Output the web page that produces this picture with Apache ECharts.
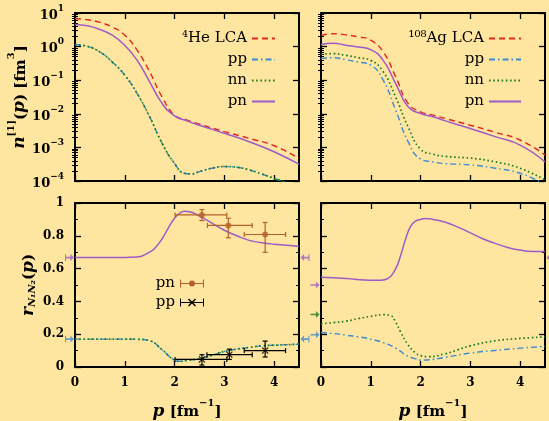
<!DOCTYPE html>
<html>
<head>
<meta charset="utf-8">
<script src="https://cdn.jsdelivr.net/npm/echarts@6/dist/echarts.min.js"></script>
<style>
  html, body { margin: 0; padding: 0; background: #FFE6A0; }
  #chart { width: 549px; height: 421px; }
</style>
</head>
<body>
<div id="chart"></div>
<script>
// ---- one-body momentum distributions n^[1](p) [fm^3] ----
const pGrid = [0, 0.25, 0.5, 0.75, 1, 1.25, 1.5, 1.75, 2, 2.25, 2.5, 3, 3.5, 4, 4.5];

const heLCA = [6.76, 6.31, 5.25, 3.80, 2.19, 0.776, 0.178, 0.0316, 0.00912, 0.00646, 0.0049, 0.00295, 0.00186, 0.00112, 0.000468];
const hePN  = [4.57, 4.17, 3.24, 2.19, 1.10, 0.389, 0.0891, 0.0204, 0.00871, 0.00617, 0.00457, 0.00263, 0.00148, 0.000741, 0.000316];
const pHeLike = [0, 0.25, 0.5, 0.75, 1, 1.25, 1.5, 1.75, 2, 2.2, 2.35, 2.5, 2.75, 3, 3.25, 3.5, 3.75, 4, 4.25, 4.5];
const hePP  = [1.15, 1.02, 0.692, 0.347, 0.141, 0.0398, 0.00813, 0.00132, 0.000331, 0.00017, 0.000162, 0.000191, 0.00024, 0.000269, 0.000257, 0.000214, 0.000162, 0.00012, 0.0000891, 0.0000631];
const heNN  = [1.15, 1.02, 0.692, 0.347, 0.141, 0.0398, 0.00813, 0.00132, 0.000331, 0.00017, 0.000162, 0.000191, 0.00024, 0.000269, 0.000257, 0.000214, 0.000162, 0.00012, 0.0000891, 0.0000631];

const agLCA = [2.19, 2.40, 2.24, 1.95, 1.55, 0.692, 0.126, 0.0204, 0.0115, 0.00912, 0.00724, 0.00457, 0.00282, 0.00166, 0.000589];
const agPN  = [1.15, 1.26, 1.10, 0.977, 0.813, 0.389, 0.0794, 0.0162, 0.0102, 0.00813, 0.00617, 0.00363, 0.00209, 0.00117, 0.000372];
const agNN  = [0.589, 0.617, 0.550, 0.468, 0.389, 0.178, 0.0316, 0.00407, 0.00089, 0.00063, 0.00054, 0.000479, 0.000372, 0.00024, 0.000107];
const agPP  = [0.437, 0.468, 0.407, 0.347, 0.282, 0.100, 0.0129, 0.00148, 0.00045, 0.00037, 0.00033, 0.000302, 0.00024, 0.00017, 0.0000794];

// ---- pair ratios r_{N1N2}(p) ----
const pHeRatioPN = [0, 0.5, 1.0, 1.25, 1.5, 1.6, 1.75, 1.9, 2.0, 2.1, 2.2, 2.3, 2.5, 2.75, 3.0, 3.25, 3.5, 3.75, 4.0, 4.25, 4.5];
const rHePN      = [0.667, 0.667, 0.667, 0.670, 0.70, 0.723, 0.782, 0.861, 0.907, 0.937, 0.95, 0.947, 0.92, 0.877, 0.834, 0.80, 0.772, 0.758, 0.749, 0.743, 0.735];
const pHeRatioPP = [0, 0.5, 1.0, 1.25, 1.5, 1.75, 2.0, 2.1, 2.25, 2.5, 2.75, 3.0, 3.25, 3.5, 3.75, 4.0, 4.5];
const rHePP      = [0.17, 0.17, 0.17, 0.169, 0.16, 0.105, 0.042, 0.035, 0.04, 0.051, 0.071, 0.095, 0.109, 0.119, 0.129, 0.133, 0.139];
const rHeNN      = [0.17, 0.17, 0.17, 0.169, 0.16, 0.105, 0.042, 0.035, 0.04, 0.051, 0.071, 0.095, 0.109, 0.119, 0.129, 0.133, 0.139];

const pAgRatioPN = [0, 0.5, 1.0, 1.2, 1.35, 1.5, 1.6, 1.7, 1.8, 1.9, 2.0, 2.1, 2.25, 2.5, 2.75, 3.0, 3.25, 3.5, 3.75, 4.0, 4.25, 4.5];
const rAgPN      = [0.547, 0.539, 0.529, 0.529, 0.54, 0.60, 0.68, 0.78, 0.857, 0.89, 0.90, 0.905, 0.90, 0.883, 0.853, 0.818, 0.782, 0.754, 0.729, 0.713, 0.705, 0.705];
const pAgRatioNN = [0, 0.25, 0.5, 0.75, 1.0, 1.25, 1.4, 1.5, 1.6, 1.75, 1.9, 2.0, 2.15, 2.5, 2.75, 3.0, 3.5, 4.0, 4.5];
const rAgNN      = [0.263, 0.271, 0.279, 0.295, 0.309, 0.319, 0.313, 0.273, 0.214, 0.135, 0.085, 0.069, 0.063, 0.081, 0.105, 0.129, 0.16, 0.174, 0.184];
const pAgRatioPP = [0, 0.25, 0.5, 0.75, 1.0, 1.25, 1.5, 1.75, 1.9, 2.0, 2.25, 2.5, 3.0, 3.5, 4.0, 4.5];
const rAgPP      = [0.21, 0.204, 0.194, 0.184, 0.17, 0.149, 0.115, 0.065, 0.05, 0.042, 0.046, 0.059, 0.085, 0.101, 0.115, 0.125];

// ---- measured ratios: [p, r, pLow, pHigh, rLow, rHigh] ----
const expPN = [
  [2.55, 0.927, 2.01, 3.05, 0.893, 0.960],
  [3.08, 0.863, 2.66, 3.56, 0.788, 0.907],
  [3.82, 0.808, 3.40, 4.23, 0.699, 0.881]
];
const expPP = [
  [2.55, 0.046, 2.01, 3.05, 0.012, 0.075],
  [3.10, 0.075, 2.65, 3.56, 0.046, 0.109],
  [3.82, 0.100, 3.40, 4.23, 0.061, 0.158]
];

// ---- reference values marked by arrows beside the ratio panels ----
const heMarkPN = 0.667, heMarkPP = 0.17;
const agMarkPN = 0.50, agMarkNN = 0.32, agMarkPP = 0.196, agMarkPNRight = 0.667;

// ---- tick labels ----
const xTicks = [0, 1, 2, 3, 4];
const logMajor = [1e-4, 1e-3, 1e-2, 1e-1, 1, 10];

const FONT = 'DejaVu Serif';
const C_RED = '#E5261F', C_BLUE = '#3B8AD2', C_GREEN = '#1D7A1D', C_PURPLE = '#9E5AC8';
const C_BROWN = '#B4612A', C_BLACK = '#000000';

const logMinor = [];
for (let d = -4; d <= 0; d++) for (let k = 2; k <= 9; k++) logMinor.push(+(k * Math.pow(10, d)).toPrecision(3));

const zip = (xs, ys) => xs.map((x, i) => [x, ys[i]]);

const axisLineStyle = { show: true, onZero: false, lineStyle: { color: '#000', width: 2 } };
const tickStyle = { color: '#000', width: 1.3 };
const minorTickStyle = { color: '#000', width: 1 };

const supRich = {
  b: { fontFamily: FONT, fontWeight: 'bold', fontSize: 13, lineHeight: 18, verticalAlign: 'bottom', color: '#000' },
  s: { fontFamily: FONT, fontWeight: 'bold', fontSize: 9, lineHeight: 10, verticalAlign: 'top', color: '#000' }
};
const nameRich = {
  i: { fontFamily: FONT, fontStyle: 'italic', fontWeight: 'bold', fontSize: 17, lineHeight: 22, verticalAlign: 'bottom', color: '#000' },
  t: { fontFamily: FONT, fontWeight: 'bold', fontSize: 15, lineHeight: 22, verticalAlign: 'bottom', color: '#000' },
  sp: { fontFamily: FONT, fontWeight: 'bold', fontSize: 10, lineHeight: 12, verticalAlign: 'top', color: '#000' },
  sb: { fontFamily: FONT, fontStyle: 'italic', fontWeight: 'bold', fontSize: 10, lineHeight: 11, verticalAlign: 'bottom', color: '#000' }
};

function xAxisFor(grid, position, labels, name) {
  return {
    type: 'value', gridIndex: grid, position: position, min: 0, max: 4.5, interval: 1,
    axisLine: axisLineStyle,
    axisTick: { show: true, inside: true, length: 6, lineStyle: tickStyle, customValues: xTicks },
    axisLabel: {
      show: labels, margin: 10,
      fontFamily: FONT, fontWeight: 'bold', fontSize: 12, color: '#000',
      customValues: xTicks
    },
    splitLine: { show: false },
    name: name || '', nameLocation: 'middle', nameGap: 31,
    nameTextStyle: { rich: nameRich }
  };
}

function logAxisFor(grid, position, labels, minor, name) {
  return {
    type: 'log', logBase: 10, gridIndex: grid, position: position, min: 1e-4, max: 10,
    axisLine: minor ? { show: false } : axisLineStyle,
    axisTick: { show: true, inside: true, length: minor ? 3 : 6, lineStyle: minor ? minorTickStyle : tickStyle, customValues: minor ? logMinor : logMajor },
    axisLabel: {
      show: labels && !minor, margin: 11, customValues: logMajor,
      formatter: v => {
        const e = Math.round(Math.log10(v));
        return '{b|10}{s|' + (e < 0 ? '\u2212' + (-e) : e) + '}';
      },
      rich: supRich
    },
    splitLine: { show: false },
    name: name || '', nameLocation: 'middle', nameGap: 46,
    nameTextStyle: { rich: nameRich }
  };
}

function ratioAxisFor(grid, position, labels, name) {
  return {
    type: 'value', gridIndex: grid, position: position, min: 0, max: 1, interval: 0.2,
    axisLine: axisLineStyle,
    axisTick: { show: true, inside: true, length: 6, lineStyle: tickStyle },
    minorTick: { show: true, splitNumber: 2, length: 3, lineStyle: minorTickStyle },
    axisLabel: { show: labels, margin: 11, fontFamily: FONT, fontWeight: 'bold', fontSize: 12, color: '#000' },
    splitLine: { show: false },
    minorSplitLine: { show: false },
    name: name || '', nameLocation: 'middle', nameGap: 38,
    nameTextStyle: { rich: nameRich }
  };
}

const xName = '{i|p}{t| [fm}{sp|\u22121}{t|]}';
const nName = '{i|n}{sp|[1]}{t|(}{i|p}{t|) [fm}{sp|3}{t|]}';
const rName = '{i|r}{sb|N\u2081N\u2082}{t|(}{i|p}{t|)}';

const xAxes = [
  xAxisFor(0, 'bottom', false), xAxisFor(0, 'top', false),
  xAxisFor(1, 'bottom', false), xAxisFor(1, 'top', false),
  xAxisFor(2, 'bottom', true, xName), xAxisFor(2, 'top', false),
  xAxisFor(3, 'bottom', true, xName), xAxisFor(3, 'top', false)
];
const yAxes = [
  logAxisFor(0, 'left', true, false, nName), logAxisFor(0, 'left', false, true),
  logAxisFor(0, 'right', false, false), logAxisFor(0, 'right', false, true),
  logAxisFor(1, 'left', false, false), logAxisFor(1, 'left', false, true),
  logAxisFor(1, 'right', false, false), logAxisFor(1, 'right', false, true),
  ratioAxisFor(2, 'left', true, rName), ratioAxisFor(2, 'right', false),
  ratioAxisFor(3, 'left', false), ratioAxisFor(3, 'right', false)
];

const styles = {
  lca: { color: C_RED, width: 1.4, type: [6, 4] },
  pp: { color: C_BLUE, width: 1.4, type: [6, 3, 1.5, 3] },
  nn: { color: C_GREEN, width: 1.7, type: [1.6, 2.6] },
  pn: { color: C_PURPLE, width: 1.5, type: 'solid' }
};

function curve(name, xi, yi, data, st) {
  return {
    type: 'line', name: name, xAxisIndex: xi, yAxisIndex: yi, data: data,
    showSymbol: false, symbol: 'none', smooth: 0.5,
    lineStyle: st, itemStyle: { color: st.color }, clip: true, z: 3
  };
}

// arrows: tail bar on the left, head on the right
const ARROW_BAR = 'path://M0,1 L1.2,1 L1.2,3.3 L6,3.3 L6,0.8 L10,4 L6,7.2 L6,4.7 L1.2,4.7 L1.2,7 L0,7 Z';
const ARROW = 'path://M0,3.3 L6,3.3 L6,0.8 L10,4 L6,7.2 L6,4.7 L0,4.7 Z';

function marker(xi, yi, p, r, color, symbol, rotate) {
  return {
    type: 'scatter', xAxisIndex: xi, yAxisIndex: yi, data: [[p, r]],
    symbol: symbol, symbolSize: [9, 7], symbolRotate: rotate || 0,
    itemStyle: { color: color }, clip: false, silent: true, z: 6
  };
}

function errorBars(color) {
  return function (params, api) {
    const p = api.value(0), r = api.value(1);
    const a = api.coord([api.value(2), r]), b = api.coord([api.value(3), r]);
    const c = api.coord([p, api.value(4)]), d = api.coord([p, api.value(5)]);
    const cap = 2.5;
    const style = { stroke: color, lineWidth: 1.2, fill: null };
    const seg = (x1, y1, x2, y2) => ({ type: 'line', shape: { x1, y1, x2, y2 }, style });
    return {
      type: 'group', children: [
        seg(a[0], a[1], b[0], b[1]),
        seg(a[0], a[1] - cap, a[0], a[1] + cap),
        seg(b[0], b[1] - cap, b[0], b[1] + cap),
        seg(c[0], c[1], d[0], d[1]),
        seg(c[0] - cap, c[1], c[0] + cap, c[1]),
        seg(d[0] - cap, d[1], d[0] + cap, d[1])
      ]
    };
  };
}

const CROSS = 'path://M0,1 L1,0 L4,3 L7,0 L8,1 L5,4 L8,7 L7,8 L4,5 L1,8 L0,7 L3,4 Z';
// legend keys: error bar with caps plus the point marker
const KEY_BAR = 'M0,1 L1,1 L1,9 L0,9 Z M23,1 L24,1 L24,9 L23,9 Z M0,4.4 L24,4.4 L24,5.6 L0,5.6 Z';
const ICON_PN = 'path://' + KEY_BAR + ' M9,5 A3,3 0 1,1 15,5 A3,3 0 1,1 9,5 Z';
const ICON_PP = 'path://' + KEY_BAR + ' M8,2 L9,1 L12,4 L15,1 L16,2 L13,5 L16,8 L15,9 L12,6 L9,9 L8,8 L11,5 Z';

const series = [
  // 4He momentum distributions
  curve('\u2074He LCA', 0, 0, zip(pGrid, heLCA), styles.lca),
  curve('pp', 0, 0, zip(pHeLike, hePP), styles.pp),
  curve('nn', 0, 0, zip(pHeLike, heNN), styles.nn),
  curve('pn', 0, 0, zip(pGrid, hePN), styles.pn),
  // 108Ag momentum distributions
  curve('\u00B9\u2070\u2078Ag LCA', 2, 4, zip(pGrid, agLCA), styles.lca),
  curve('pp', 2, 4, zip(pGrid, agPP), styles.pp),
  curve('nn', 2, 4, zip(pGrid, agNN), styles.nn),
  curve('pn', 2, 4, zip(pGrid, agPN), styles.pn),
  // 4He ratios
  curve('pn', 4, 8, zip(pHeRatioPN, rHePN), styles.pn),
  curve('pp', 4, 8, zip(pHeRatioPP, rHePP), styles.pp),
  curve('nn', 4, 8, zip(pHeRatioPP, rHeNN), styles.nn),
  // 108Ag ratios
  curve('pn', 6, 10, zip(pAgRatioPN, rAgPN), styles.pn),
  curve('pp', 6, 10, zip(pAgRatioPP, rAgPP), styles.pp),
  curve('nn', 6, 10, zip(pAgRatioNN, rAgNN), styles.nn),
  // measurements
  { type: 'custom', name: 'pn data', xAxisIndex: 4, yAxisIndex: 8, data: expPN, encode: { x: 0, y: 1 },
    renderItem: errorBars(C_BROWN), itemStyle: { color: C_BROWN }, z: 5 },
  { type: 'scatter', name: 'pn data', xAxisIndex: 4, yAxisIndex: 8, data: expPN.map(d => [d[0], d[1]]),
    symbol: 'circle', symbolSize: 6, itemStyle: { color: C_BROWN }, z: 6 },
  { type: 'custom', name: 'pp data', xAxisIndex: 4, yAxisIndex: 8, data: expPP, encode: { x: 0, y: 1 },
    renderItem: errorBars(C_BLACK), itemStyle: { color: C_BLACK }, z: 5 },
  { type: 'scatter', name: 'pp data', xAxisIndex: 4, yAxisIndex: 8, data: expPP.map(d => [d[0], d[1]]),
    symbol: CROSS, symbolSize: 7, itemStyle: { color: C_BLACK }, z: 6 },
  // arrow marks
  marker(4, 8, -0.11, heMarkPN, C_PURPLE, ARROW_BAR),
  marker(4, 8, -0.11, heMarkPP, C_BLUE, ARROW_BAR),
  marker(4, 8, 4.62, heMarkPN, C_PURPLE, ARROW_BAR, 180),
  marker(4, 8, 4.62, heMarkPP, C_BLUE, ARROW_BAR, 180),
  marker(6, 10, -0.12, agMarkPN, C_PURPLE, ARROW),
  marker(6, 10, -0.12, agMarkNN, C_GREEN, ARROW),
  marker(6, 10, -0.12, agMarkPP, C_BLUE, ARROW),
  marker(6, 10, 4.62, agMarkPNRight, C_PURPLE, ARROW, 180)
];

const legendText = { fontFamily: FONT, fontSize: 15, color: '#000', lineHeight: 14 };
const lineKeyStyle = { opacity: 0, borderWidth: 0 };

const option = {
  backgroundColor: '#FFE6A0',
  animation: false,
  grid: [
    { left: 75, top: 13, width: 224, height: 168 },
    { left: 321, top: 13, width: 224, height: 168 },
    { left: 75, top: 203, width: 224, height: 168 },
    { left: 321, top: 203, width: 224, height: 168 }
  ],
  xAxis: xAxes,
  yAxis: yAxes,
  legend: [
    { orient: 'vertical', align: 'right', right: 268, top: 26, itemWidth: 23, itemHeight: 10, itemGap: 6,
      selectedMode: false, textStyle: legendText, itemStyle: lineKeyStyle,
      data: ['\u2074He LCA', 'pp', 'nn', 'pn'] },
    { orient: 'vertical', align: 'right', right: 22, top: 26, itemWidth: 32, itemHeight: 10, itemGap: 6,
      selectedMode: false, textStyle: legendText, itemStyle: lineKeyStyle,
      data: ['\u00B9\u2070\u2078Ag LCA', 'pp', 'nn', 'pn'] },
    { orient: 'vertical', align: 'right', right: 340, top: 271, itemWidth: 24, itemHeight: 10, itemGap: 4,
      selectedMode: false, textStyle: legendText,
      formatter: n => n.replace(' data', ''),
      data: [
        { name: 'pn data', icon: ICON_PN, itemStyle: { color: C_BROWN } },
        { name: 'pp data', icon: ICON_PP, itemStyle: { color: C_BLACK } }
      ] }
  ],
  series: series
};

const chart = echarts.init(document.getElementById('chart'), null, { renderer: 'canvas' });
chart.setOption(option);
</script>
</body>
</html>
